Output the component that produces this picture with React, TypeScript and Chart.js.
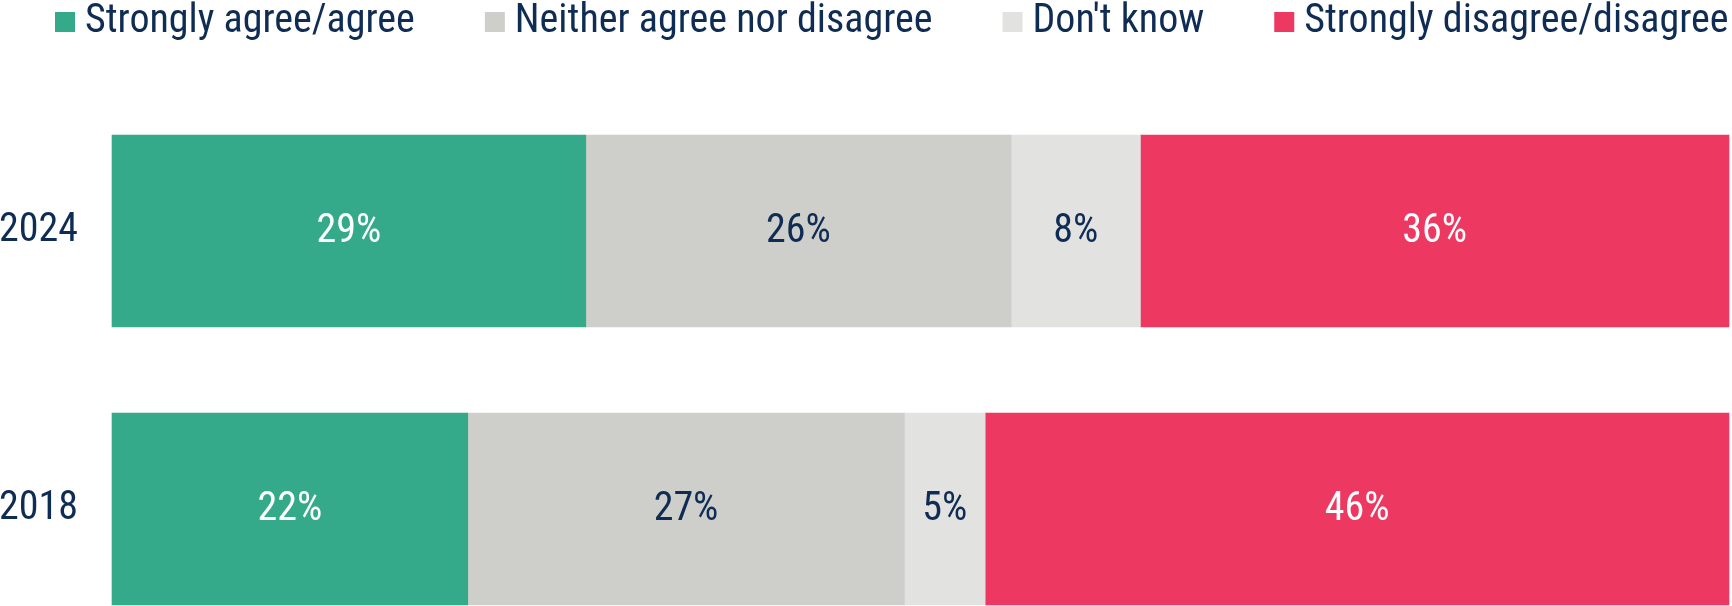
import React, { useEffect, useRef } from 'react';
import { Chart, registerables } from 'chart.js';

Chart.register(...registerables);

const categories = ['2024', '2018'];
const seriesNames = ['Strongly agree/agree', 'Neither agree nor disagree', "Don't know", 'Strongly disagree/disagree'];
const agreeValues = [29.3, 22.0];
const neitherValues = [26.3, 27.0];
const dontKnowValues = [8.0, 5.0];
const disagreeValues = [36.4, 46.0];

const FONT = "'Roboto Condensed', 'DejaVu Sans Condensed', sans-serif";
const NAVY = '#0f2c54';
const barColors = ['#34aa8a', '#cecfca', '#e2e2e0', '#ed3862'];
const labelColors = ['#ffffff', NAVY, NAVY, '#ffffff'];

// Legend swatch: a 20x20 square placed closer to its text than Chart.js's default gap.
function makeSwatch(color: string) {
  const c = document.createElement('canvas');
  c.width = 60;
  c.height = 40;
  const g = c.getContext('2d')!;
  g.fillStyle = color;
  g.fillRect(30, 10, 20, 20);
  return c;
}

const valueLabels = {
  id: 'valueLabels',
  afterDatasetsDraw(chart: any) {
    const ctx = chart.ctx;
    ctx.save();
    ctx.font = `40px ${FONT}`;
    ctx.textAlign = 'center';
    ctx.textBaseline = 'middle';
    chart.data.datasets.forEach((ds: any, di: number) => {
      const meta = chart.getDatasetMeta(di);
      meta.data.forEach((el: any, i: number) => {
        const v = ds.data[i];
        const p = el.getCenterPoint();
        ctx.fillStyle = labelColors[di];
        ctx.fillText(Math.round(v) + '%', p.x, p.y + 1);
      });
    });
    ctx.restore();
  },
};

// Keeps the legend on one row (it runs to the right edge) and reserves the space above the bars.
const legendFit = {
  id: 'legendFit',
  beforeLayout(chart: any) {
    const lg = chart.legend;
    if (lg && !lg._patchedFit) {
      const origFit = lg.fit.bind(lg);
      lg.fit = function () {
        this.maxWidth += 300;
        origFit();
        this.height = 289;
      };
      const origDraw = lg._draw.bind(lg);
      lg._draw = function () {
        const r = this.right;
        this.right = r + 300;
        origDraw();
        this.right = r;
      };
      lg._patchedFit = true;
    }
  },
};

export default function App() {
  const ref = useRef<HTMLCanvasElement | null>(null);
  useEffect(() => {
    if (!ref.current) return;
    const seriesValues = [agreeValues, neitherValues, dontKnowValues, disagreeValues];
    const swatches = barColors.map(makeSwatch);
    const chart = new Chart(ref.current, {
      type: 'bar',
      data: {
        labels: categories,
        datasets: seriesNames.map((name, i) => ({
          label: name,
          data: seriesValues[i],
          backgroundColor: barColors[i],
          borderWidth: 0,
          barThickness: 192,
          clip: false as any,
        })),
      },
      options: {
        indexAxis: 'y',
        responsive: false,
        maintainAspectRatio: false,
        animation: false,
        events: [],
        layout: { padding: { top: -58, left: -15, right: 3, bottom: 97 } },
        scales: {
          x: { stacked: true, min: 0, max: 100, display: false },
          y: {
            stacked: true,
            offset: false,
            grid: { display: false, drawTicks: false },
            border: { display: false },
            ticks: { color: NAVY, font: { family: FONT, size: 40 }, padding: 34 },
            afterFit(scale: any) {
              scale.width = 127;
            },
          },
        },
        plugins: {
          tooltip: { enabled: false },
          legend: {
            position: 'top',
            align: 'start',
            labels: {
              usePointStyle: true,
              pointStyleWidth: 20,
              boxWidth: 20,
              boxHeight: 20,
              padding: 60,
              color: NAVY,
              font: { family: FONT, size: 40 },
              generateLabels(c: any) {
                const items = (Chart.defaults as any).plugins.legend.labels.generateLabels(c);
                return items.map((it: any, i: number) => ({ ...it, pointStyle: swatches[i] }));
              },
            },
          },
        },
      },
      plugins: [valueLabels, legendFit],
    });
    return () => chart.destroy();
  }, []);
  return (
    <div style={{ position: 'absolute', left: 0, top: 0, width: 1732, height: 606 }}>
      <canvas ref={ref} width={1732} height={606} style={{ display: 'block' }} />
    </div>
  );
}
